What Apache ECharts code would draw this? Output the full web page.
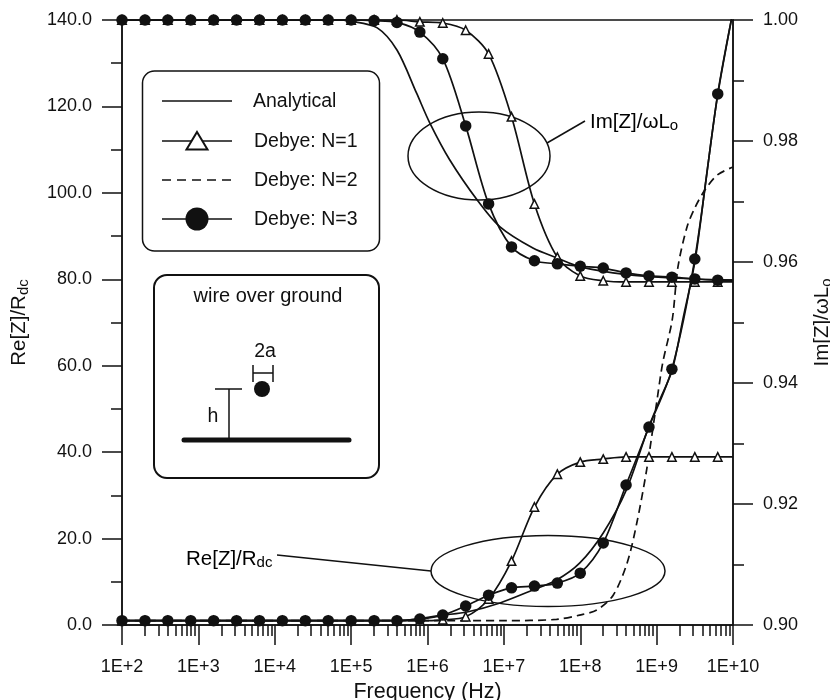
<!DOCTYPE html>
<html><head><meta charset="utf-8">
<style>html,body{margin:0;padding:0;background:#fff}#c{width:830px;height:700px}</style>
<script src="https://cdn.jsdelivr.net/npm/echarts@6/dist/echarts.min.js"></script>
</head><body><div id="c"></div>
<script>
const FONT = '"Liberation Sans"';
const INK = '#111';

const gridFreq = [100,200,398,794,1585,3162,6310,12590,25120,50120,1e5,2e5,3.98e5,7.94e5,1.585e6,3.162e6,6.31e6,1.259e7,2.512e7,5.012e7,1e8,2e8,3.98e8,7.94e8,1.585e9,3.162e9,6.31e9,1e10];

const imN1 = [1,1,1,1,1,1,1,1,1,1,1,1,1,.9997,.9995,.9983,.9944,.9840,.9696,.9608,.9577,.9569,.9567,.9567,.9567,.9567,.9567,.9567];
const imN3 = [1,1,1,1,1,1,1,1,1,1,1,.9999,.9996,.9980,.9936,.9825,.9696,.9625,.9602,.9597,.9593,.9590,.9582,.9577,.9575,.9572,.9570,.9570];
const reN1 = [1,1,1,1,1,1,1,1,1,1,1,1,1,1,1.2,1.9,6.0,14.8,27.3,34.9,37.7,38.4,38.9,38.9,38.9,38.9,38.9,38.9];
const reN3 = [1,1,1,1,1,1,1,1,1,1,1,1,1,1.4,2.3,4.4,6.9,8.6,9.0,9.7,12.0,19.0,32.4,45.8,59.2,84.7,122.9,142];

const imAnalyticalFreq = [100,1e4,6e4,1e5,2.2e5,4e5,7.2e5,1.07e6,1.95e6,4.5e6,8.9e6,2.4e7,4.9e7,1e8,4.1e8,1.35e9,1e10];
const imAnalytical = [1,1,1,.9998,.9987,.9950,.9879,.9830,.9769,.9702,.9658,.9623,.9607,.9592,.9579,.9574,.9570];

const reAnalyticalFreq = [100,1e5,4.4e5,1.6e6,3.3e6,8.9e6,2.4e7,4.9e7,9.8e7,2e8,4e8,7.6e8,1.1e9,1.6e9,2.2e9,3.2e9,4.5e9,6.3e9,1e10];
const reAnalytical = [1,1,1.05,2.3,3.0,5.1,8.1,10.4,14.3,21.3,31.2,45.1,52.1,59,70.6,84.5,104,122.6,142];

const reN2Freq = [100,1e5,1e7,4.9e7,9.8e7,1.66e8,2.7e8,4.1e8,5.5e8,7.4e8,1e9,1.2e9,1.6e9,1.9e9,2.5e9,3.2e9,4.3e9,6.2e9,1e10];
const reN2 = [1,1,1,1.3,2.3,3.5,6.9,14.3,23.6,35.9,51.4,60.6,70.6,82.8,92.1,96.7,100.7,104.1,106];

const xMajor = [1e2,1e3,1e4,1e5,1e6,1e7,1e8,1e9,1e10];
const xMinor = [];
for (let d = 2; d < 10; d++) for (let m = 2; m < 10; m++) xMinor.push(m * Math.pow(10, d));

const zip = (xs, ys) => xs.map((x, i) => [x, ys[i]]);
const line = {color: INK, width: 1.7};

const txt = (x, y, text, extra) => ({type:'text', silent:true, style:Object.assign({x, y, text, fill:INK, font:'19.5px '+FONT, textAlign:'left', textVerticalAlign:'middle'}, extra||{})});
const seg = (x1,y1,x2,y2,w,extra) => ({type:'line', silent:true, shape:{x1,y1,x2,y2}, style:Object.assign({stroke:INK, lineWidth:w||1.5}, extra||{})});
const sub = {a:{fontFamily:FONT,fontSize:20.5,color:INK}, b:{fontFamily:FONT,fontSize:15,color:INK,padding:[8,0,0,0]}};

const graphicEls = [
  // legend
  {type:'rect', silent:true, shape:{x:142.5,y:71,width:237,height:180,r:12}, style:{fill:'#fff',stroke:INK,lineWidth:1.5}},
  seg(162,101,232,101), txt(253,102,'Analytical'),
  seg(162,141,232,141), {type:'polygon',silent:true,shape:{points:[[197,132],[207.5,149.5],[186.5,149.5]]},style:{fill:'#fff',stroke:INK,lineWidth:2}}, txt(254,142,'Debye: N=1'),
  seg(162,180,232,180,1.5,{lineDash:[9,6]}), txt(254,181,'Debye: N=2'),
  seg(162,219,232,219), {type:'circle',silent:true,shape:{cx:197,cy:219,r:11.5},style:{fill:INK}}, txt(254,220,'Debye: N=3'),
  // schematic box
  {type:'rect', silent:true, shape:{x:154,y:275,width:225,height:203,r:13}, style:{fill:'#fff',stroke:INK,lineWidth:2}},
  txt(268,296,'wire over ground',{textAlign:'center',font:'20px '+FONT}),
  txt(265,352,'2a',{textAlign:'center'}),
  seg(253,373,273,373), seg(253,365,253,382), seg(273,365,273,382),
  {type:'circle',silent:true,shape:{cx:262,cy:389,r:8},style:{fill:INK}},
  seg(215,389,242,389), seg(229,389,229,440),
  txt(213,417,'h',{textAlign:'center'}),
  seg(184,440,349,440,5,{lineCap:'round'}),
  // callouts
  {type:'ellipse', silent:true, shape:{cx:479,cy:156,rx:71,ry:44}, style:{fill:'none',stroke:INK,lineWidth:1.5}},
  seg(547,143,585,121),
  {type:'text',silent:true,style:{x:590,y:122,text:'{a|Im[Z]/\u03C9L}{b|o}',rich:sub,textVerticalAlign:'middle'}},
  {type:'ellipse', silent:true, shape:{cx:548,cy:571,rx:117,ry:35.5}, style:{fill:'none',stroke:INK,lineWidth:1.5}},
  seg(277,555,431,571),
  {type:'text',silent:true,style:{x:186,y:559,text:'{a|Re[Z]/R}{b|dc}',rich:sub,textVerticalAlign:'middle'}}
];

const option = {
  animation:false,
  backgroundColor:'#fff',
  textStyle:{fontFamily:FONT,color:INK},
  grid:{left:122,right:97,top:20,bottom:75,outerBoundsMode:'none',containLabel:false,show:true,borderColor:INK,borderWidth:1.5,backgroundColor:'transparent'},
  xAxis:[
    {type:'log',logBase:10,min:1e2,max:1e10,position:'bottom',
     name:'Frequency (Hz)',nameLocation:'middle',nameGap:56,nameTextStyle:{fontSize:21.5,color:INK,fontFamily:FONT},
     axisLine:{lineStyle:{color:INK,width:1.5}},
     axisTick:{customValues:xMajor,length:20,lineStyle:{color:INK,width:1.5}},
     axisLabel:{customValues:xMajor,fontSize:18,color:INK,margin:33,fontFamily:FONT,
       formatter:v=>'1E+'+Math.round(Math.log10(v))},
     splitLine:{show:false},minorTick:{show:false},minorSplitLine:{show:false}},
    {type:'log',logBase:10,min:1e2,max:1e10,position:'bottom',
     axisLine:{show:false},axisLabel:{show:false},
     axisTick:{customValues:xMinor,length:11,lineStyle:{color:INK,width:1.5}},
     splitLine:{show:false},minorTick:{show:false}}
  ],
  yAxis:[
    {type:'value',min:0,max:140,interval:20,position:'left',
     name:'{a|Re[Z]/R}{b|dc}',nameLocation:'middle',nameGap:91,nameTextStyle:{rich:sub},
     axisLine:{show:true,lineStyle:{color:INK,width:1.5}},
     axisTick:{show:true,length:20,lineStyle:{color:INK,width:1.5}},
     minorTick:{show:true,splitNumber:2,length:11,lineStyle:{color:INK,width:1.5}},
     axisLabel:{fontSize:18,color:INK,margin:30,fontFamily:FONT,formatter:v=>v.toFixed(1)},
     splitLine:{show:false}},
    {type:'value',min:0.9,max:1.0,interval:0.02,position:'right',
     name:'{a|Im[Z]/\u03C9L}{b|o}',nameLocation:'middle',nameGap:78,nameRotate:90,nameTextStyle:{rich:sub},
     axisLine:{show:true,lineStyle:{color:INK,width:1.5}},
     axisTick:{show:true,length:20,lineStyle:{color:INK,width:1.5}},
     minorTick:{show:true,splitNumber:2,length:11,lineStyle:{color:INK,width:1.5}},
     axisLabel:{fontSize:18,color:INK,margin:30,fontFamily:FONT,formatter:v=>v.toFixed(2)},
     splitLine:{show:false}}
  ],
  graphic:{elements:graphicEls},
  series:[
    {name:'Debye: N=2',type:'line',yAxisIndex:0,data:zip(reN2Freq,reN2),showSymbol:false,smooth:0.3,lineStyle:Object.assign({},line,{type:[8,5]})},
    {name:'Analytical',type:'line',yAxisIndex:1,data:zip(imAnalyticalFreq,imAnalytical),showSymbol:false,smooth:0.3,lineStyle:line},
    {name:'Analytical',type:'line',yAxisIndex:0,data:zip(reAnalyticalFreq,reAnalytical),showSymbol:false,smooth:0.3,lineStyle:line},
    {name:'Debye: N=1',type:'line',yAxisIndex:1,data:zip(gridFreq,imN1),smooth:0.3,showAllSymbol:true,symbol:'triangle',
     symbolSize:(v,p)=>p.dataIndex<27?8.5:0,lineStyle:line,itemStyle:{color:'#fff',borderColor:INK,borderWidth:1.5}},
    {name:'Debye: N=1',type:'line',yAxisIndex:0,data:zip(gridFreq,reN1),smooth:0.3,showAllSymbol:true,symbol:'triangle',
     symbolSize:(v,p)=>p.dataIndex<27?8.5:0,lineStyle:line,itemStyle:{color:'#fff',borderColor:INK,borderWidth:1.5}},
    {name:'Debye: N=3',type:'line',yAxisIndex:1,data:zip(gridFreq,imN3),smooth:0.3,showAllSymbol:true,symbol:'circle',
     symbolSize:(v,p)=>p.dataIndex<27?11.5:0,lineStyle:line,itemStyle:{color:INK,borderWidth:0}},
    {name:'Debye: N=3',type:'line',yAxisIndex:0,data:zip(gridFreq,reN3),smooth:0.3,showAllSymbol:true,symbol:'circle',
     symbolSize:(v,p)=>p.dataIndex<27?11.5:0,lineStyle:line,itemStyle:{color:INK,borderWidth:0}}
  ]
};
echarts.init(document.getElementById('c'),null,{renderer:'canvas'}).setOption(option);
</script></body></html>
